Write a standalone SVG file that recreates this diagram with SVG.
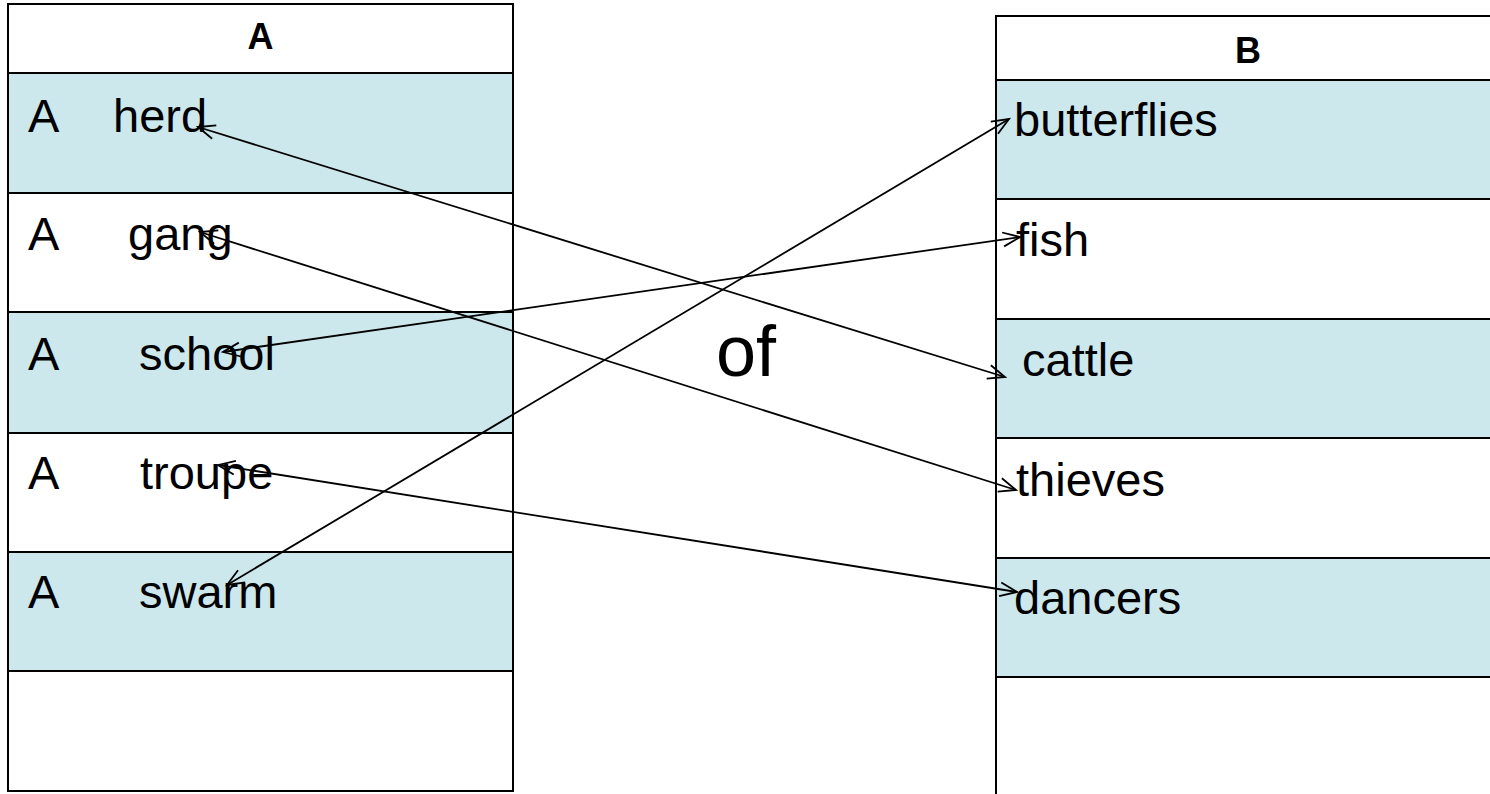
<svg xmlns="http://www.w3.org/2000/svg" width="1490" height="794" viewBox="0 0 1490 794">
<style>
.bg{fill:#ffffff}
.cell{fill:#ffffff;stroke:#000;stroke-width:2}
.cellb{fill:#CCE8EC;stroke:#000;stroke-width:2}
.hdr{font-family:"Liberation Sans",Arial,sans-serif;font-weight:bold;font-size:36px;fill:#000;text-anchor:middle}
.t{font-family:"Liberation Sans",Arial,sans-serif;font-size:47px;fill:#000}
.of{font-family:"Liberation Sans",Arial,sans-serif;font-size:72px;fill:#000}
.conn{stroke:#000;stroke-width:1.8;fill:none;marker-start:url(#ah);marker-end:url(#ah)}
</style>
<defs>
<marker id="ah" markerUnits="userSpaceOnUse" markerWidth="40" markerHeight="40" viewBox="-20 -20 40 40" refX="0" refY="0" orient="auto-start-reverse">
<path d="M -17 -7 L 0 0 L -17 7" fill="none" stroke="#000" stroke-width="1.8"/>
</marker>
</defs>
<rect class="bg" x="0" y="0" width="1490" height="794"/>
<g id="tableA">
<rect class="cell" x="8" y="4" width="505" height="69"/>
<text class="hdr" x="260.5" y="49">A</text>
<g id="A-herd"><rect class="cellb" x="8" y="73" width="505" height="120"/><text class="t" y="132"><tspan x="28">A</tspan><tspan x="113">herd</tspan></text></g>
<g id="A-gang"><rect class="cell" x="8" y="193" width="505" height="119"/><text class="t" y="250"><tspan x="28">A</tspan><tspan x="128">gang</tspan></text></g>
<g id="A-school"><rect class="cellb" x="8" y="312" width="505" height="121"/><text class="t" y="370"><tspan x="28">A</tspan><tspan x="139">school</tspan></text></g>
<g id="A-troupe"><rect class="cell" x="8" y="433" width="505" height="119"/><text class="t" y="489"><tspan x="28">A</tspan><tspan x="140">troupe</tspan></text></g>
<g id="A-swarm"><rect class="cellb" x="8" y="552" width="505" height="119"/><text class="t" y="608"><tspan x="28">A</tspan><tspan x="139">swarm</tspan></text></g>
<rect class="cell" x="8" y="671" width="505" height="120"/>
</g>
<g id="tableB">
<rect class="cell" x="996" y="16" width="505" height="64"/>
<text class="hdr" x="1248" y="63">B</text>
<g id="B-butterflies"><rect class="cellb" x="996" y="80" width="505" height="119"/><text class="t" x="1014" y="136">butterflies</text></g>
<g id="B-fish"><rect class="cell" x="996" y="199" width="505" height="120"/><text class="t" x="1016" y="256">fish</text></g>
<g id="B-cattle"><rect class="cellb" x="996" y="319" width="505" height="119"/><text class="t" x="1022" y="376">cattle</text></g>
<g id="B-thieves"><rect class="cell" x="996" y="438" width="505" height="120"/><text class="t" x="1016" y="496">thieves</text></g>
<g id="B-dancers"><rect class="cellb" x="996" y="558" width="505" height="119"/><text class="t" x="1014" y="614">dancers</text></g>
<rect class="cell" x="996" y="677" width="505" height="130"/>
</g>
<g id="of"><text class="of" x="716" y="376">of</text></g>
<g id="connectors">
<line class="conn" x1="198" y1="127" x2="1005" y2="377"/>
<line class="conn" x1="200" y1="232" x2="1016" y2="490"/>
<line class="conn" x1="223" y1="352" x2="1020" y2="237"/>
<line class="conn" x1="218" y1="465" x2="1017" y2="592"/>
<line class="conn" x1="227" y1="585" x2="1009" y2="119"/>
</g>
</svg>
